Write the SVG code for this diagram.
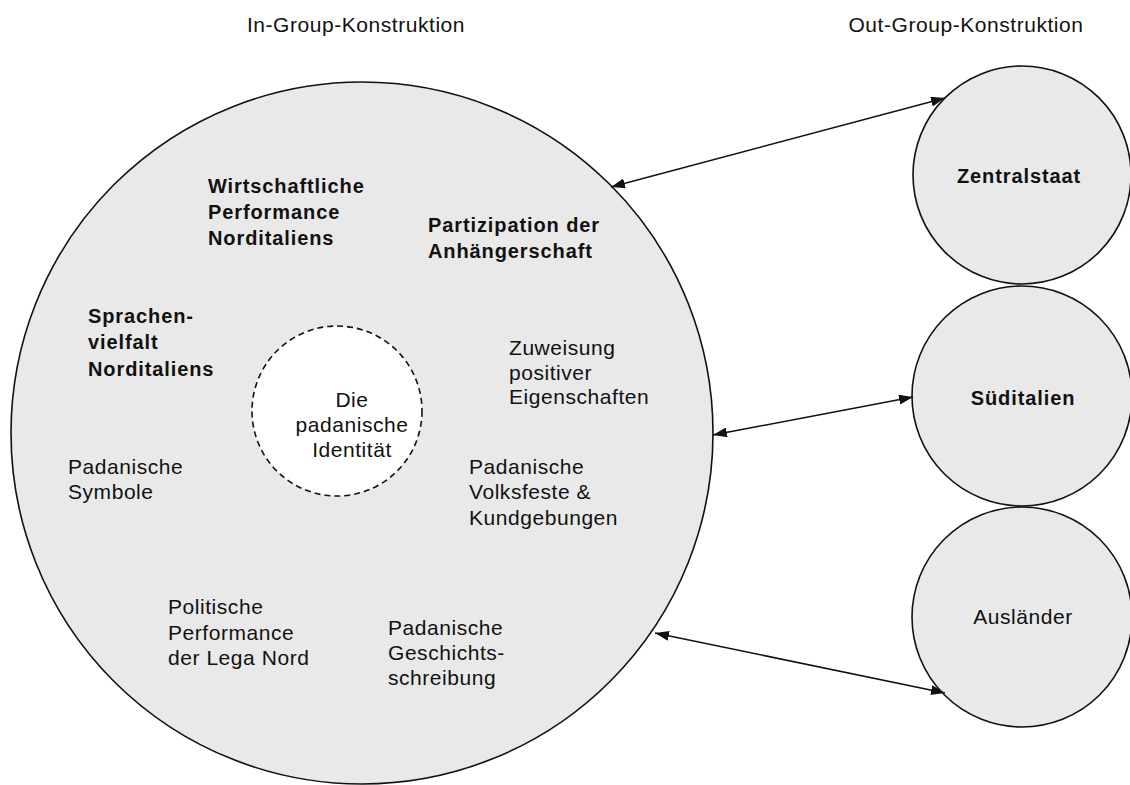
<svg xmlns="http://www.w3.org/2000/svg" width="1130" height="785" viewBox="0 0 1130 785">
<style>
.c{fill:#e9e9e9;stroke:#111;stroke-width:1.6}
.t{font-family:"Liberation Sans",Arial,sans-serif;font-size:21px;letter-spacing:0.55px;fill:#111}
.b{font-weight:bold;font-size:20px;letter-spacing:0.9px}
.m{text-anchor:middle}
.a{stroke:#111;stroke-width:1.6;fill:none;marker-start:url(#ah);marker-end:url(#ah)}
</style>
<defs>
<marker id="ah" viewBox="0 0 14 10" refX="14" refY="5" markerWidth="14" markerHeight="10" markerUnits="userSpaceOnUse" orient="auto-start-reverse">
<path d="M0,0 L14,5 L0,10 Z" fill="#111"/>
</marker>
</defs>
<rect width="1130" height="785" fill="#fff"/>
<text class="t" x="356" y="32" text-anchor="middle">In-Group-Konstruktion</text>
<text class="t" x="966" y="32" text-anchor="middle">Out-Group-Konstruktion</text>
<g id="ingroup">
<circle class="c" cx="362" cy="433" r="351"/>
<text class="t b" x="208"><tspan x="208" y="193">Wirtschaftliche</tspan><tspan x="208" y="219">Performance</tspan><tspan x="208" y="245">Norditaliens</tspan></text>
<text class="t b" x="428"><tspan x="428" y="232">Partizipation der</tspan><tspan x="428" y="258">Anhängerschaft</tspan></text>
<text class="t b" x="88"><tspan x="88" y="323">Sprachen-</tspan><tspan x="88" y="349">vielfalt</tspan><tspan x="88" y="376">Norditaliens</tspan></text>
<text class="t" x="509"><tspan x="509" y="355">Zuweisung</tspan><tspan x="509" y="380">positiver</tspan><tspan x="509" y="404">Eigenschaften</tspan></text>
<text class="t" x="68"><tspan x="68" y="474">Padanische</tspan><tspan x="68" y="499">Symbole</tspan></text>
<text class="t" x="469"><tspan x="469" y="474">Padanische</tspan><tspan x="469" y="499">Volksfeste &amp;</tspan><tspan x="469" y="525">Kundgebungen</tspan></text>
<text class="t" x="168"><tspan x="168" y="614">Politische</tspan><tspan x="168" y="640">Performance</tspan><tspan x="168" y="665">der Lega Nord</tspan></text>
<text class="t" x="388"><tspan x="388" y="635">Padanische</tspan><tspan x="388" y="660">Geschichts-</tspan><tspan x="388" y="685">schreibung</tspan></text>
</g>
<g id="identity">
<circle cx="337" cy="411" r="85" fill="#fff" stroke="#111" stroke-width="1.6" stroke-dasharray="6,4"/>
<text class="t m"><tspan x="352" y="407">Die</tspan><tspan x="352" y="432">padanische</tspan><tspan x="352" y="457">Identität</tspan></text>
</g>
<g id="zentralstaat">
<circle class="c" cx="1022" cy="175" r="109"/>
<text class="t b m" x="1019" y="183">Zentralstaat</text>
</g>
<g id="sueditalien">
<circle class="c" cx="1022" cy="396" r="110"/>
<text class="t b m" x="1023" y="405">Süditalien</text>
</g>
<g id="auslaender">
<circle class="c" cx="1022" cy="617" r="110"/>
<text class="t m" x="1023" y="624">Ausländer</text>
</g>
<g id="connectors">
<line class="a" x1="611" y1="187" x2="945" y2="98"/>
<line class="a" x1="713" y1="435" x2="913" y2="397"/>
<line class="a" x1="655" y1="633" x2="945" y2="693"/>
</g>
</svg>
